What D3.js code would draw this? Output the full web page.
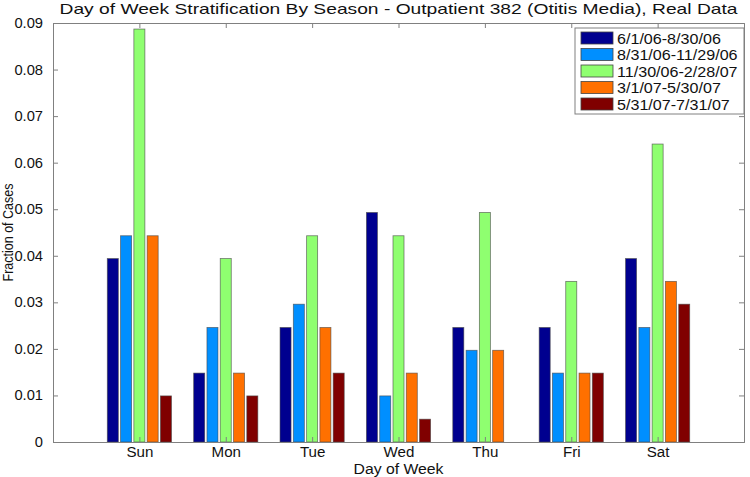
<!DOCTYPE html>
<html>
<head>
<meta charset="utf-8">
<script src="https://cdn.jsdelivr.net/npm/d3@7"></script>
<style>
body { margin: 0; background: #fff; }
text { font-family: "Liberation Sans", Arial, sans-serif; fill: #111; }
</style>
</head>
<body>
<div id="chart"></div>
<script>
// categories and series
var days = ["Sun", "Mon", "Tue", "Wed", "Thu", "Fri", "Sat"];
var seasons = ["6/1/06-8/30/06", "8/31/06-11/29/06", "11/30/06-2/28/07", "3/1/07-5/30/07", "5/31/07-7/31/07"];
var colors = ["#00008f", "#008fff", "#8fff70", "#ff7000", "#800000"];

// fraction of cases, one array per season (Sun..Sat)
var s1 = [0.0394, 0.0148, 0.0246, 0.0493, 0.0246, 0.0246, 0.0394];
var s2 = [0.0443, 0.0246, 0.0296, 0.0099, 0.0197, 0.0148, 0.0246];
var s3 = [0.0887, 0.0394, 0.0443, 0.0443, 0.0493, 0.0345, 0.0640];
var s4 = [0.0443, 0.0148, 0.0246, 0.0148, 0.0197, 0.0148, 0.0345];
var s5 = [0.0099, 0.0099, 0.0148, 0.0049, 0, 0.0148, 0.0296];
var series = [s1, s2, s3, s4, s5];

var yTicks = [0, 0.01, 0.02, 0.03, 0.04, 0.05, 0.06, 0.07, 0.08, 0.09];

var W = 750, H = 477;
var margin = { top: 23, right: 6, bottom: 35, left: 53 },
	width = W - margin.left - margin.right,
	height = H - margin.top - margin.bottom;

var svg = d3.select("#chart").append("svg")
	.attr("width", W)
	.attr("height", H);

// the reference text is a bit wider than the font, stretch it
function stretch(sel, k) {
	sel.each(function () {
		var len = this.getComputedTextLength();
		d3.select(this).attr("textLength", len * k).attr("lengthAdjust", "spacingAndGlyphs");
	});
}

var g = svg.append("g")
	.attr("transform", "translate(" + margin.left + "," + margin.top + ")");

// x: positions 1..7 in a 0..8 range, like the matlab bar default
var xScale = d3.scaleLinear().domain([0, 8]).range([0, width]);
var yScale = d3.scaleLinear().domain([0, 0.09]).range([height, 0]);

var groupW = 0.769;
var inner = d3.scaleBand()
	.domain(d3.range(seasons.length))
	.range([xScale(-groupW / 2) - xScale(0), xScale(groupW / 2) - xScale(0)])
	.paddingInner(0.17)
	.paddingOuter(0.085);

// bars
series.forEach(function (vals, si) {
	g.selectAll(".bar" + si)
		.data(vals)
		.enter()
		.append("rect")
		.attr("class", "bar" + si)
		.attr("x", function (d, i) { return xScale(i + 1) + inner(si); })
		.attr("width", inner.bandwidth())
		.attr("y", function (d) { return yScale(d); })
		.attr("height", function (d) { return height - yScale(d); })
		.attr("fill", colors[si])
		.attr("stroke", function (d) { return d > 0 ? "#444" : "none"; })
		.attr("stroke-opacity", 0.7)
		.attr("stroke-width", 0.8);
});

// axes (ticks inside, box all round)
var tickLen = 5;
var axisCol = "#808080";

var yAxis = d3.axisLeft(yScale).tickValues(yTicks).tickSize(-tickLen).tickPadding(10)
	.tickFormat(function (d) { return d === 0 ? "0" : d3.format(".2f")(d); });
var yAxisR = d3.axisRight(yScale).tickValues(yTicks).tickSize(-tickLen).tickFormat("");
var xAxis = d3.axisBottom(xScale).tickValues(d3.range(1, 8)).tickSize(-tickLen).tickPadding(5)
	.tickFormat(function (d) { return days[d - 1]; });
var xAxisT = d3.axisTop(xScale).tickValues(d3.range(1, 8)).tickSize(-tickLen).tickFormat("");

var gy = g.append("g").call(yAxis);
var gyr = g.append("g").attr("transform", "translate(" + width + ",0)").call(yAxisR);
var gx = g.append("g").attr("transform", "translate(0," + height + ")").call(xAxis);
var gxt = g.append("g").call(xAxisT);

[gy, gyr, gx, gxt].forEach(function (a) {
	a.select(".domain").attr("stroke", axisCol);
	a.selectAll(".tick line").attr("stroke", axisCol);
	a.selectAll("text").style("font-size", "14px").attr("fill", "#111")
		.style("font-family", "'Liberation Sans', Arial, sans-serif");
});
gx.selectAll(".tick text").attr("dy", "0.71em");
stretch(gx.selectAll(".tick text"), 1.08);
stretch(gy.selectAll(".tick text"), 1.05);

// titles
var title = svg.append("text")
	.attr("x", margin.left + width / 2)
	.attr("y", 14)
	.attr("text-anchor", "middle")
	.style("font-size", "15px")
	.text("Day of Week Stratification By Season - Outpatient 382 (Otitis Media), Real Data");
title.attr("textLength", 678).attr("lengthAdjust", "spacingAndGlyphs");

var xTitle = svg.append("text")
	.attr("x", margin.left + width / 2)
	.attr("y", 474)
	.attr("text-anchor", "middle")
	.style("font-size", "14px")
	.text("Day of Week");
xTitle.attr("textLength", 90).attr("lengthAdjust", "spacingAndGlyphs");

var yTitle = svg.append("text")
	.attr("transform", "translate(13," + (margin.top + height / 2) + ") rotate(-90)")
	.attr("text-anchor", "middle")
	.style("font-size", "14px")
	.text("Fraction of Cases");
yTitle.attr("textLength", 98).attr("lengthAdjust", "spacingAndGlyphs");

// legend
var lg = svg.append("g").attr("transform", "translate(575,28)");
lg.append("rect")
	.attr("width", 169)
	.attr("height", 86)
	.attr("fill", "#fff")
	.attr("stroke", axisCol);

var items = lg.selectAll(".item")
	.data(seasons)
	.enter()
	.append("g")
	.attr("class", "item")
	.attr("transform", function (d, i) { return "translate(6," + (4 + i * 16.5) + ")"; });

items.append("rect")
	.attr("width", 32)
	.attr("height", 12)
	.attr("fill", function (d, i) { return colors[i]; })
	.attr("stroke", "#444")
	.attr("stroke-width", 0.8);

var itemText = items.append("text")
	.attr("x", 36)
	.attr("y", 11.5)
	.style("font-size", "14px")
	.text(function (d) { return d; });
stretch(itemText, 1.15);
</script>
</body>
</html>
